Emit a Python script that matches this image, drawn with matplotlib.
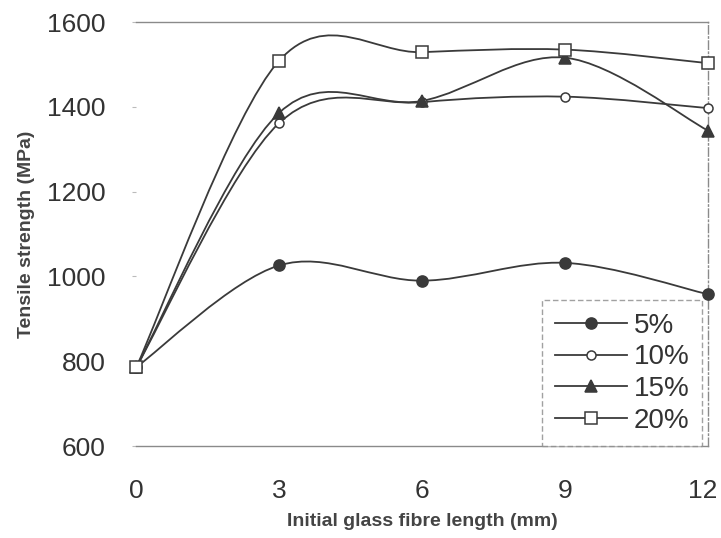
import numpy as np
import matplotlib.pyplot as plt
import matplotlib.transforms as mtransforms
from matplotlib.path import Path
from matplotlib.patches import PathPatch
from matplotlib.lines import Line2D

# fibre length (mm) and tensile strength (MPa) per glass fibre content
lengths = [0, 3, 6, 9, 12]
labels = ['5%', '10%', '15%', '20%']
s5 = [786, 1026, 990, 1032, 958]
s10 = [786, 1362, 1411, 1424, 1397]
s15 = [786, 1386, 1414, 1516, 1344]
s20 = [786, 1509, 1529, 1535, 1503]

ink = '#3a3a3a'
markers = [('o', ink, 8), ('o', 'white', 6.5), ('^', ink, 9), ('s', 'white', 8)]
font = 'Liberation Sans'


def smooth_path(x, y):
    # Excel style smoothed line: cubic Bezier through every point
    pts = np.column_stack([x, y]).astype(float)
    n = len(pts)
    verts = [pts[0]]
    codes = [Path.MOVETO]
    for i in range(n - 1):
        p0 = pts[i - 1] if i > 0 else pts[i]
        p1 = pts[i]
        p2 = pts[i + 1]
        p3 = pts[i + 2] if i + 2 < n else pts[i + 1]
        c1 = p1 + (p2 - p0) / 6.0
        c2 = p2 - (p3 - p1) / 6.0
        verts += [c1, c2, p2]
        codes += [Path.CURVE4] * 3
    return Path(verts, codes)


fig = plt.figure(figsize=(7.21, 5.38), dpi=100)
ax = fig.add_axes([0.189, 0.171, 0.793, 0.788])

handles = []
for vals, lab, (m, fc, ms) in zip([s5, s10, s15, s20], labels, markers):
    ax.add_patch(PathPatch(smooth_path(lengths, vals), fill=False, edgecolor=ink, lw=1.3, clip_on=False))
    ax.plot(lengths, vals, ls='none', marker=m, mfc=fc, mec=ink, mew=1.1, ms=ms, clip_on=False, zorder=3)
    handles.append(Line2D([], [], color=ink, lw=1.3, marker=m, mfc=fc, mec=ink, mew=1.1, ms=ms))

ax.set_xlim(0, 12)
ax.set_ylim(600, 1600)
ax.set_xticks([0, 3, 6, 9, 12])
ax.set_yticks([600, 800, 1000, 1200, 1400, 1600])

ax.spines['left'].set_visible(False)
for side in ['top', 'bottom']:
    ax.spines[side].set_color('#8a8a8a')
    ax.spines[side].set_linewidth(1.0)
ax.spines['right'].set_color('#8a8a8a')
ax.spines['right'].set_linestyle((0, (6, 2, 1, 2)))
ax.spines['right'].set_linewidth(1.0)

ax.tick_params(axis='x', length=0, pad=24, labelsize=19, labelcolor='#333333')
ax.tick_params(axis='y', length=3, color='#bbbbbb', pad=19, labelsize=19, labelcolor='#333333')
for t in ax.get_xticklabels() + ax.get_yticklabels():
    t.set_fontfamily(font)

# keep the "12" inside the picture
last = ax.get_xticklabels()[-1]
last.set_transform(last.get_transform() + mtransforms.ScaledTranslation(-4 / 72, 0, fig.dpi_scale_trans))

ax.set_xlabel('Initial glass fibre length (mm)', fontsize=14, fontweight='bold', color='#444444',
              labelpad=7, family=font)
ax.set_ylabel('Tensile strength (MPa)', fontsize=14, fontweight='bold', color='#444444',
              labelpad=9, family=font)

leg = ax.legend(handles, labels, loc='lower right', bbox_to_anchor=(0.99, 0.0), borderaxespad=0,
                fancybox=False, frameon=True, handlelength=2.6, handletextpad=0.25,
                labelspacing=0.2, borderpad=0.45, prop={'family': font, 'size': 20})
leg.get_frame().set_edgecolor('#8a8a8a')
leg.get_frame().set_linestyle((0, (4, 2)))
leg.get_frame().set_linewidth(1.0)
for t in leg.get_texts():
    t.set_color('#333333')

fig.savefig('out.png', dpi=100)
